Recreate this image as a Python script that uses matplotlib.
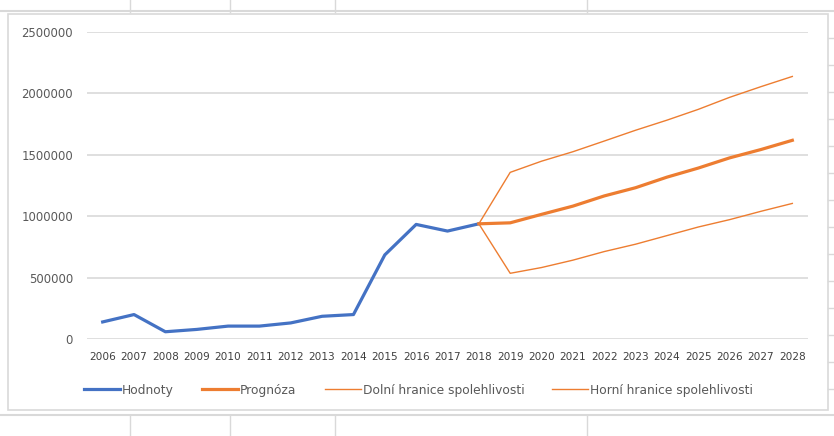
import matplotlib
matplotlib.use("Agg")
import matplotlib.pyplot as plt
from matplotlib.patches import Rectangle

# --- data ---
roky_hist = list(range(2006, 2019))
hodnoty = [139000, 199000, 59000, 78000, 105000, 105000, 131000,
           185000, 199000, 685000, 933000, 879000, 938000]

roky_prog = list(range(2018, 2029))
prognoza = [938000, 946000, 1015000, 1082000, 1165000, 1232000,
            1318000, 1392000, 1475000, 1543000, 1618000]
dolni = [938000, 535000, 582000, 642000, 712000, 772000,
         842000, 912000, 972000, 1040000, 1104000]
horni = [938000, 1357000, 1448000, 1525000, 1612000, 1700000,
         1782000, 1870000, 1968000, 2055000, 2138000]

roky_vse = list(range(2006, 2029))

MODRA = "#4472C4"
ORANZ = "#ED7D31"
SEDA = "#D9D9D9"
TEXT = "#595959"

W, H = 834, 436
fig = plt.figure(figsize=(W / 100, H / 100), dpi=100)

# pozadi tabulky (bunky) v pixelech
bg = fig.add_axes([0, 0, 1, 1])
bg.set_xlim(0, W)
bg.set_ylim(H, 0)
bg.axis("off")
for x in [130, 230, 335, 587]:
    bg.plot([x, x], [0, 12], color=SEDA, lw=1)
    bg.plot([x, x], [415, H], color=SEDA, lw=1)
bg.plot([0, W], [11.5, 11.5], color=SEDA, lw=1.5)
bg.plot([0, W], [415, 415], color=SEDA, lw=1.5)
for y in range(38, 415, 27):
    bg.plot([828, W], [y, y], color=SEDA, lw=1)
bg.add_patch(Rectangle((8, 14), 820, 396, facecolor="white",
                       edgecolor=SEDA, lw=1.2))

# graf
ax = fig.add_axes([87 / W, (H - 339) / H, (808 - 87) / W, (339 - 32) / H])
ax.patch.set_alpha(0)
ax.plot(roky_hist, hodnoty, color=MODRA, lw=2.3, label="Hodnoty", zorder=3)
ax.plot(roky_prog, prognoza, color=ORANZ, lw=2.3, label="Prognóza", zorder=3)
ax.plot(roky_prog, dolni, color=ORANZ, lw=1.0,
        label="Dolní hranice spolehlivosti", zorder=3)
ax.plot(roky_prog, horni, color=ORANZ, lw=1.0,
        label="Horní hranice spolehlivosti", zorder=3)

ax.set_xlim(2005.5, 2028.5)
ax.set_ylim(0, 2500000)
ax.set_yticks(range(0, 2500001, 500000))
ax.set_yticklabels([str(v) for v in range(0, 2500001, 500000)])
ax.set_xticks(roky_vse)
ax.set_xticklabels([str(r) for r in roky_vse])
ax.grid(axis="y", color=SEDA, lw=1.2)
ax.set_axisbelow(True)
for s in ax.spines.values():
    s.set_visible(False)
ax.tick_params(axis="y", length=0, pad=10, labelsize=8.4, labelcolor=TEXT)
ax.tick_params(axis="x", length=0, pad=9, labelsize=7.6, labelcolor="#404040")

leg = fig.legend(loc="center", bbox_to_anchor=(0.502, 1 - 390 / H), ncol=4,
                 frameon=False, fontsize=8.8, handlelength=2.95,
                 handletextpad=0.16, columnspacing=2.3)
for t in leg.get_texts():
    t.set_color(TEXT)

fig.savefig("out.png", dpi=100)
